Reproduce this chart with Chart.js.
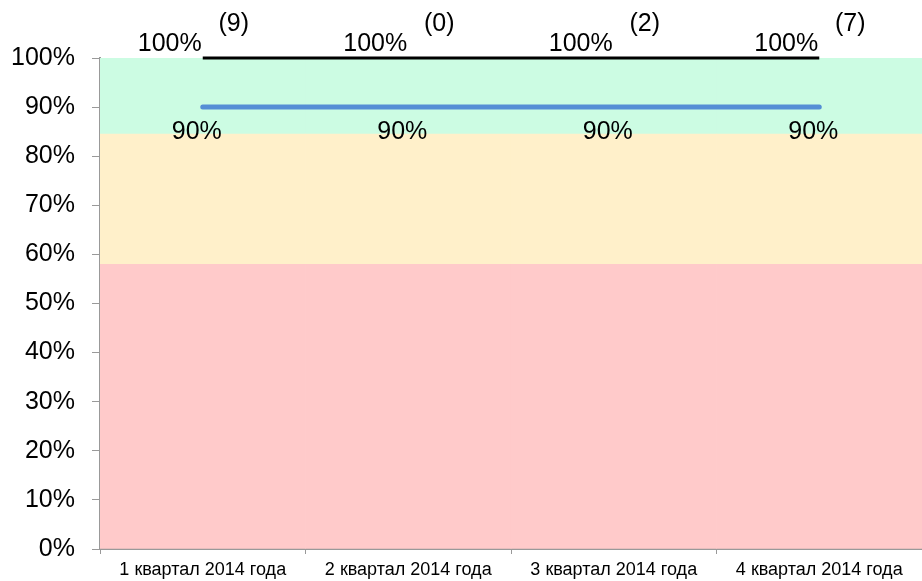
<!DOCTYPE html>
<html>
<head>
<meta charset="utf-8">
<script src="https://cdn.jsdelivr.net/npm/chart.js@4"></script>
<style>
  body { margin: 0; background: #fff; }
  canvas { display: block; }
</style>
</head>
<body>
<canvas id="chart" width="922" height="581"></canvas>
<script>
const categories = ['1 квартал 2014 года', '2 квартал 2014 года', '3 квартал 2014 года', '4 квартал 2014 года'];
const planValues = [100, 100, 100, 100];
const targetValues = [90, 90, 90, 90];
const counts = [9, 0, 2, 7];
const redBand = [0, 58];
const yellowBand = [58, 84.5];
const greenBand = [84.5, 100];

const FONT = '"Liberation Sans", Arial, sans-serif';

// подписи значений у точек
const pointLabels = {
  id: 'pointLabels',
  afterDatasetsDraw(chart) {
    const ctx = chart.ctx;
    ctx.save();
    ctx.fillStyle = '#000';
    ctx.textAlign = 'center';
    ctx.textBaseline = 'middle';
    ctx.font = '25px ' + FONT;

    chart.getDatasetMeta(3).data.forEach((pt, i) => {
      ctx.fillText(planValues[i] + '%', pt.x - 33, pt.y - 14);
      ctx.fillText('(' + counts[i] + ')', pt.x + 31, pt.y - 34);
    });
    chart.getDatasetMeta(4).data.forEach((pt, i) => {
      ctx.fillText(targetValues[i] + '%', pt.x - 6, pt.y + 25);
    });
    ctx.restore();
  }
};

new Chart(document.getElementById('chart'), {
  type: 'bar',
  data: {
    labels: categories,
    datasets: [
      { data: categories.map(() => redBand), backgroundColor: '#FFCACA', order: 3 },
      { data: categories.map(() => yellowBand), backgroundColor: '#FFF0CA', order: 3 },
      { data: categories.map(() => greenBand), backgroundColor: '#CCFCE3', order: 3 },
      {
        type: 'line', data: planValues, borderColor: '#000', borderWidth: 3,
        pointRadius: 0, clip: false, order: 1
      },
      {
        type: 'line', data: targetValues, borderColor: '#558ED5', borderWidth: 5,
        borderCapStyle: 'round', pointRadius: 0, clip: false, order: 1
      }
    ]
  },
  options: {
    responsive: false,
    animation: false,
    layout: { padding: { top: 58, right: 0, left: 0, bottom: 0 } },
    datasets: {
      bar: { grouped: false, barPercentage: 1, categoryPercentage: 1, borderWidth: 0 }
    },
    plugins: { legend: { display: false }, tooltip: { enabled: false } },
    scales: {
      x: {
        offset: true,
        grid: { offset: true, drawOnChartArea: false, color: '#999', tickLength: 5 },
        border: { color: '#999', width: 2 },
        ticks: { color: '#000', font: { family: FONT, size: 18 }, padding: 5, maxRotation: 0 },
        afterFit(scale) { scale.height = 32; }
      },
      y: {
        min: 0, max: 100,
        grid: { drawOnChartArea: false, color: '#999', tickLength: 8 },
        border: { color: '#999', width: 2 },
        ticks: {
          stepSize: 10, color: '#000', padding: 17,
          font: { family: FONT, size: 25 },
          callback: v => v + '%'
        },
        afterFit(scale) { scale.width = 100; }
      }
    }
  },
  plugins: [pointLabels]
});
</script>
</body>
</html>
